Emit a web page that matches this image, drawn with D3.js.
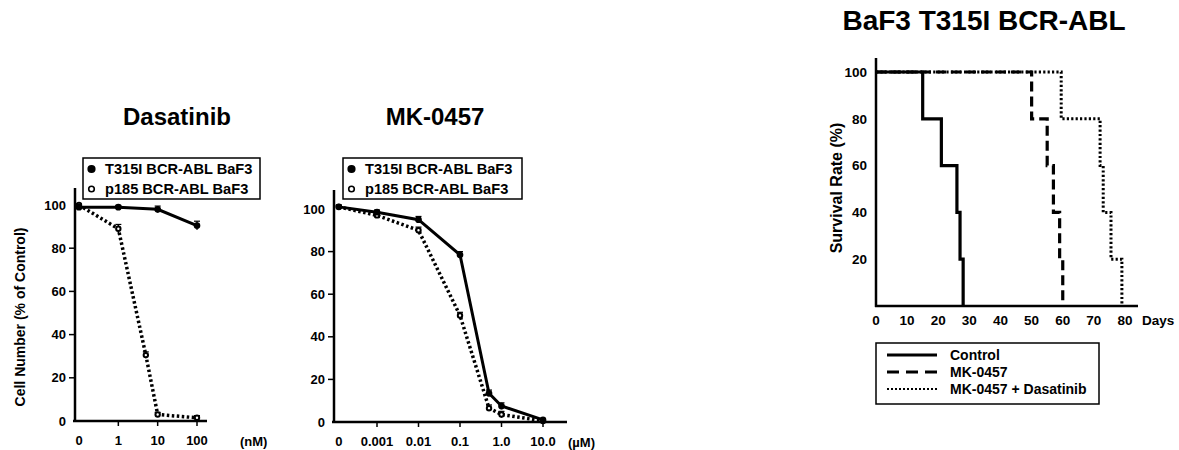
<!DOCTYPE html>
<html>
<head>
<meta charset="utf-8">
<script src="https://cdn.jsdelivr.net/npm/d3@7"></script>
<style>
  body { margin: 0; background: #fff; }
  svg { display: block; }
  text { font-family: "Liberation Sans", Arial, Helvetica, sans-serif; font-weight: bold; fill: #000; }
</style>
</head>
<body>
<div id="chart-area"></div>
<script>

// ---- data ----

// Dasatinib dose-response (dose in nM, 0 = untreated)
let dasT315IDose = [0, 1, 10, 100],
	dasT315IVal = [99, 99, 98, 90.5],
	dasT315IErr = [0.5, 0.8, 1.5, 2];
let dasP185Dose = [0, 1, 5, 10, 100],
	dasP185Val = [100, 89, 30.5, 3, 1.5],
	dasP185Err = [0.5, 2, 1.5, 1, 1];
let dasTickDose = [0, 1, 10, 100],
	dasTickLabel = ["0", "1", "10", "100"];

// MK-0457 dose-response (dose in uM, 0 = untreated)
let mkDose = [0, 0.001, 0.01, 0.1, 0.5, 1, 10],
	mkT315IVal = [101, 98.5, 95, 78.5, 13.5, 7.5, 1],
	mkP185Val = [101, 97, 90, 50, 6.5, 3.5, 0.5],
	mkErr = [0.8, 1, 1.5, 1.5, 1.5, 1.5, 0.5];
let mkTickDose = [0, 0.001, 0.01, 0.1, 1, 10],
	mkTickLabel = ["0", "0.001", "0.01", "0.1", "1.0", "10.0"];

let pctTicks = [0, 20, 40, 60, 80, 100];
let doseSeries = ["T315I BCR-ABL BaF3", "p185 BCR-ABL BaF3"];

// survival (Kaplan-Meier), days vs %
let survGroups = ["Control", "MK-0457", "MK-0457 + Dasatinib"];
let controlDays = [0, 15, 21, 26, 27, 28],
	controlSurv = [100, 80, 60, 40, 20, 0];
let mkDays = [0, 50, 55, 57, 59, 60],
	mkSurv = [100, 80, 60, 40, 20, 0];
let comboDays = [0, 59.5, 72, 73, 75.5, 79],
	comboSurv = [100, 80, 60, 40, 20, 0];
let dayTicks = [0, 10, 20, 30, 40, 50, 60, 70, 80];
let survTicks = [20, 40, 60, 80, 100];


let svg = d3.select("#chart-area").append("svg")
	.attr("width", 1179)
	.attr("height", 450);

let zip = (xs, ys, es) => xs.map((x, i) => ({x: x, y: ys[i], e: es ? es[i] : 0}));

// ---------- dose-response panels ----------
function dosePanel(opt) {
	let g = svg.append("g");

	let xPos = d => opt.x(d === 0 ? opt.zero : d);
	let y = opt.y;

	// title
	g.append("text")
		.attr("x", opt.titleX).attr("y", 125)
		.attr("text-anchor", "middle")
		.style("font-size", "24px")
		.text(opt.title);

	// y axis
	g.append("line")
		.attr("x1", opt.axisX).attr("x2", opt.axisX)
		.attr("y1", opt.axisTop).attr("y2", y(0) + 1)
		.attr("stroke", "#000").attr("stroke-width", 2.5);
	pctTicks.forEach(t => {
		if (t > 0 && t < 100) {
			g.append("line")
				.attr("x1", opt.axisX - 6).attr("x2", opt.axisX)
				.attr("y1", y(t)).attr("y2", y(t))
				.attr("stroke", "#000").attr("stroke-width", 1.5);
		}
		g.append("text")
			.attr("x", opt.axisX - 9).attr("y", y(t))
			.attr("dy", "0.36em")
			.attr("text-anchor", "end")
			.style("font-size", "13px")
			.text(t);
	});

	// x axis
	g.append("line")
		.attr("x1", opt.axisX - 2).attr("x2", opt.xEnd)
		.attr("y1", y(0)).attr("y2", y(0))
		.attr("stroke", "#000").attr("stroke-width", 2.5);
	opt.ticks.forEach((t, i) => {
		if (t !== 0) {
			g.append("line")
				.attr("x1", xPos(t)).attr("x2", xPos(t))
				.attr("y1", y(0)).attr("y2", y(0) + 5)
				.attr("stroke", "#000").attr("stroke-width", 1.5);
		}
		g.append("text")
			.attr("x", xPos(t)).attr("y", y(0) + 19)
			.attr("dy", "0.36em")
			.attr("text-anchor", "middle")
			.style("font-size", "13px")
			.text(opt.tickLabels[i]);
	});
	g.append("text")
		.attr("x", opt.unitX).attr("y", y(0) + 20)
		.attr("dy", "0.36em")
		.style("font-size", "13px")
		.text(opt.unit);

	let line = d3.line().x(d => xPos(d.x)).y(d => y(d.y));

	// dotted p185
	g.append("path")
		.datum(opt.p185)
		.attr("d", line)
		.attr("fill", "none")
		.attr("stroke", "#000")
		.attr("stroke-width", 3.5)
		.attr("stroke-dasharray", "2.5,2.5");
	// solid T315I
	g.append("path")
		.datum(opt.t315)
		.attr("d", line)
		.attr("fill", "none")
		.attr("stroke", "#000")
		.attr("stroke-width", 3);

	// error bars + markers
	[opt.p185, opt.t315].forEach((ser, si) => {
		g.selectAll(null).data(ser).enter().append("line")
			.attr("x1", d => xPos(d.x)).attr("x2", d => xPos(d.x))
			.attr("y1", d => y(d.y + d.e)).attr("y2", d => y(d.y - d.e))
			.attr("stroke", "#000").attr("stroke-width", 1.5);
		g.selectAll(null).data(ser).enter().append("line")
			.attr("x1", d => xPos(d.x) - 3).attr("x2", d => xPos(d.x) + 3)
			.attr("y1", d => y(d.y + d.e)).attr("y2", d => y(d.y + d.e))
			.attr("stroke", "#000").attr("stroke-width", 1.2);
		g.selectAll(null).data(ser).enter().append("circle")
			.attr("cx", d => xPos(d.x)).attr("cy", d => y(d.y))
			.attr("r", si === 1 ? 2.6 : 2.2)
			.attr("fill", si === 1 ? "#000" : "#fff")
			.attr("stroke", "#000").attr("stroke-width", si === 1 ? 1.5 : 2);
	});

	// legend
	let lg = g.append("g").attr("transform", "translate(" + opt.legX + ",158)");
	lg.append("rect")
		.attr("width", opt.legW).attr("height", 41)
		.attr("fill", "#fff").attr("stroke", "#000").attr("stroke-width", 1.5);
	doseSeries.forEach((s, i) => {
		lg.append("circle")
			.attr("cx", 8.5).attr("cy", 11 + i * 20)
			.attr("r", i === 0 ? 3.3 : 2.8)
			.attr("fill", i === 0 ? "#000" : "#fff")
			.attr("stroke", "#000").attr("stroke-width", 1.6);
		lg.append("text")
			.attr("x", 22).attr("y", 11 + i * 20)
			.attr("dy", "0.36em")
			.style("font-size", "14.6px")
			.text(s);
	});
}

// Dasatinib
dosePanel({
	title: "Dasatinib", titleX: 177,
	x: d3.scaleLog().domain([0.1, 100]).range([79, 197]),
	zero: 0.1,
	y: d3.scaleLinear().domain([0, 100]).range([421, 205]),
	axisX: 75, axisTop: 188, xEnd: 207,
	ticks: dasTickDose, tickLabels: dasTickLabel,
	unit: "(nM)", unitX: 240,
	t315: zip(dasT315IDose, dasT315IVal, dasT315IErr),
	p185: zip(dasP185Dose, dasP185Val, dasP185Err),
	legX: 83, legW: 177
});

// MK-0457
dosePanel({
	title: "MK-0457", titleX: 435,
	x: d3.scaleLog().domain([0.001, 10]).range([377, 543]),
	zero: 1.2e-4,
	y: d3.scaleLinear().domain([0, 100]).range([422, 209]),
	axisX: 334, axisTop: 190, xEnd: 567,
	ticks: mkTickDose, tickLabels: mkTickLabel,
	unit: "(\u00b5M)", unitX: 568,
	t315: zip(mkDose, mkT315IVal, mkErr),
	p185: zip(mkDose, mkP185Val, mkErr),
	legX: 343, legW: 179
});

// shared y label
svg.append("text")
	.attr("transform", "translate(20,317) rotate(-90)")
	.attr("text-anchor", "middle")
	.attr("dy", "0.36em")
	.style("font-size", "14px")
	.text("Cell Number (% of Control)");


// ---------- survival panel ----------
let sx = d3.scaleLinear().domain([0, 80]).range([876, 1125]),
	sy = d3.scaleLinear().domain([0, 100]).range([306, 72]);

let sg = svg.append("g");

sg.append("text")
	.attr("x", 984).attr("y", 30)
	.attr("text-anchor", "middle")
	.style("font-size", "28px")
	.text("BaF3 T315I BCR-ABL");

sg.append("text")
	.attr("transform", "translate(836,188) rotate(-90)")
	.attr("text-anchor", "middle")
	.attr("dy", "0.36em")
	.style("font-size", "16px")
	.text("Survival Rate (%)");

survTicks.forEach(t => {
	sg.append("text")
		.attr("x", 867).attr("y", sy(t))
		.attr("dy", "0.36em")
		.attr("text-anchor", "end")
		.style("font-size", "13.5px")
		.text(t);
});
dayTicks.forEach(t => {
	sg.append("text")
		.attr("x", sx(t)).attr("y", 320)
		.attr("dy", "0.36em")
		.attr("text-anchor", "middle")
		.style("font-size", "13.5px")
		.text(t);
});
sg.append("text")
	.attr("x", 1142).attr("y", 320)
	.attr("dy", "0.36em")
	.style("font-size", "13.5px")
	.text("Days");

let step = d3.line().curve(d3.curveStepAfter).x(d => sx(d.x)).y(d => sy(d.y));
let survStyles = [
	{w: 3.2, dash: null},
	{w: 3.2, dash: "10,5"},
	{w: 3, dash: "2.2,2.2"}
];
let survData = [zip(controlDays, controlSurv), zip(mkDays, mkSurv), zip(comboDays, comboSurv)];

// draw dotted first, then dashed, then solid on top
[2, 1, 0].forEach(i => {
	sg.append("path")
		.datum(survData[i])
		.attr("d", step)
		.attr("fill", "none")
		.attr("stroke", "#000")
		.attr("stroke-width", survStyles[i].w)
		.attr("stroke-dasharray", survStyles[i].dash);
});

// axes
sg.append("line")
	.attr("x1", 876).attr("x2", 876).attr("y1", 58).attr("y2", sy(0) + 1)
	.attr("stroke", "#000").attr("stroke-width", 2.5);
sg.append("line")
	.attr("x1", 875).attr("x2", 1138).attr("y1", sy(0)).attr("y2", sy(0))
	.attr("stroke", "#000").attr("stroke-width", 2.5);

// legend
let slg = sg.append("g").attr("transform", "translate(876,343)");
slg.append("rect")
	.attr("width", 223).attr("height", 61)
	.attr("fill", "#fff").attr("stroke", "#000").attr("stroke-width", 1.5);
survGroups.forEach((s, i) => {
	let yy = 12 + i * 17;
	slg.append("line")
		.attr("x1", 11).attr("x2", 61).attr("y1", yy).attr("y2", yy)
		.attr("stroke", "#000")
		.attr("stroke-width", i === 2 ? 2.2 : 3)
		.attr("stroke-dasharray", i === 1 ? "12,7" : (i === 2 ? "2,2" : null));
	slg.append("text")
		.attr("x", 74).attr("y", yy)
		.attr("dy", "0.36em")
		.style("font-size", "14px")
		.text(s);
});

</script>
</body>
</html>
